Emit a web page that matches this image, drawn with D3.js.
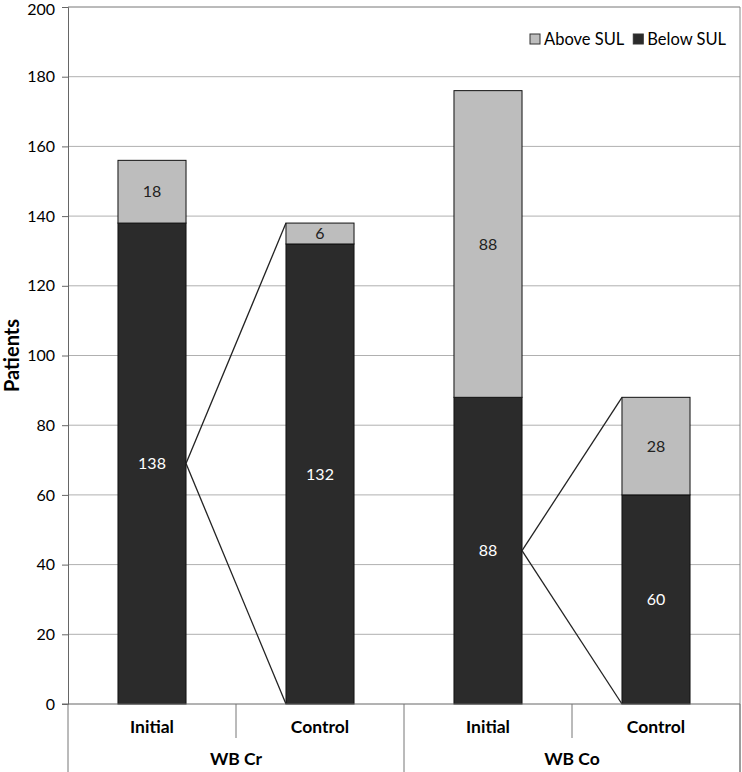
<!DOCTYPE html>
<html>
<head>
<meta charset="utf-8">
<script src="https://cdn.jsdelivr.net/npm/d3@7"></script>
<style>
  body { margin: 0; background: #fff; }
  text { font-family: Lato, "Open Sans", sans-serif; }
</style>
</head>
<body>
<div id="plot"></div>
<script>
// data
const groups = ["WB Cr", "WB Co"];
const phases = ["Initial", "Control"];
const belowSUL = [138, 132, 88, 60];
const aboveSUL = [18, 6, 88, 28];
const yTicks = [0, 20, 40, 60, 80, 100, 120, 140, 160, 180, 200];

const W = 742, H = 772;
const margin = {top: 7, right: 2, bottom: 68, left: 68};
const width = W - margin.left - margin.right;
const height = H - margin.top - margin.bottom;

const svg = d3.select("#plot").append("svg")
  .attr("width", W).attr("height", H);

const g = svg.append("g")
  .attr("transform", `translate(${margin.left},${margin.top})`);

const cats = [];
groups.forEach(gr => phases.forEach(p => cats.push(gr + "|" + p)));

const x = d3.scaleBand().domain(cats).range([0, width]).paddingInner(0.595).paddingOuter(0.2975);
const y = d3.scaleLinear().domain([0, 200]).range([height, 0]);

// grid
g.selectAll(".grid").data(yTicks.slice(1)).enter().append("line")
  .attr("x1", 0).attr("x2", width)
  .attr("y1", d => y(d)).attr("y2", d => y(d))
  .attr("stroke", d => d === 200 ? "#777" : "#b0b0b0").attr("stroke-width", 1);

// right border
g.append("line").attr("x1", width).attr("x2", width)
  .attr("y1", 0).attr("y2", height + margin.bottom)
  .attr("stroke", "#888");

// y axis
const yAxis = g.append("g").call(d3.axisLeft(y).tickValues(yTicks).tickSize(6).tickFormat(d3.format("d")));
yAxis.select(".domain").attr("stroke", "#666");
yAxis.selectAll(".tick line").attr("stroke", "#666");
yAxis.selectAll("text").attr("font-size", 16).attr("fill", "#000").attr("dx", -4);
yAxis.selectAll(".tick").filter(d => d === 200).select("text").attr("dy", "0.45em");

svg.append("text")
  .attr("transform", `translate(19,${margin.top + height / 2}) rotate(-90)`)
  .attr("text-anchor", "middle").attr("font-size", 20).attr("font-weight", "bold")
  .text("Patients");

const data = cats.map((c, i) => ({key: c, below: belowSUL[i], above: aboveSUL[i]}));

// bars
const bw = x.bandwidth();
g.selectAll(".below").data(data).enter().append("rect")
  .attr("x", d => x(d.key)).attr("width", bw)
  .attr("y", d => y(d.below)).attr("height", d => y(0) - y(d.below))
  .attr("fill", "#2b2b2b").attr("stroke", "#111").attr("stroke-width", 1);
g.selectAll(".above").data(data).enter().append("rect")
  .attr("x", d => x(d.key)).attr("width", bw)
  .attr("y", d => y(d.below + d.above)).attr("height", d => y(d.below) - y(d.below + d.above))
  .attr("fill", "#bdbdbd").attr("stroke", "#111").attr("stroke-width", 1);

// labels
g.selectAll(".lb").data(data).enter().append("text")
  .attr("x", d => x(d.key) + bw / 2).attr("y", d => y(d.below / 2))
  .attr("dy", "0.35em").attr("text-anchor", "middle")
  .attr("font-size", 16).attr("fill", "#fff")
  .text(d => d.below);
g.selectAll(".la").data(data).enter().append("text")
  .attr("x", d => x(d.key) + bw / 2).attr("y", d => y(d.below + d.above / 2))
  .attr("dy", "0.35em").attr("text-anchor", "middle")
  .attr("font-size", 16).attr("fill", "#222")
  .text(d => d.above);

// connector lines from initial below midpoint to control bar
for (let k = 0; k < groups.length; k++) {
  const a = data[k * 2], b = data[k * 2 + 1];
  const x0 = x(a.key) + bw, y0 = y(a.below / 2);
  const x1 = x(b.key);
  [b.below + b.above, 0].forEach(v => {
    g.append("line").attr("x1", x0).attr("y1", y0)
      .attr("x2", x1).attr("y2", y(v))
      .attr("stroke", "#222").attr("stroke-width", 1.3);
  });
}

// x axis line
g.append("line").attr("x1", -6).attr("x2", width)
  .attr("y1", height).attr("y2", height).attr("stroke", "#666");

// category separators
const step = width / cats.length;
for (let i = 0; i <= cats.length; i++) {
  const long = i % 2 === 0;
  g.append("line").attr("x1", i * step).attr("x2", i * step)
    .attr("y1", height).attr("y2", long ? height + margin.bottom : height + 34)
    .attr("stroke", "#777");
}

g.selectAll(".phase").data(data).enter().append("text")
  .attr("x", d => x(d.key) + bw / 2).attr("y", height + 29)
  .attr("text-anchor", "middle").attr("font-size", 17.5).attr("font-weight", "bold")
  .text(d => d.key.split("|")[1]);

g.selectAll(".grp").data(groups).enter().append("text")
  .attr("x", (d, i) => (i * 2 + 1) * step).attr("y", height + 61)
  .attr("text-anchor", "middle").attr("font-size", 17.5).attr("font-weight", "bold")
  .text(d => d);

// legend
const legend = [{name: "Above SUL", color: "#bdbdbd"}, {name: "Below SUL", color: "#2b2b2b"}];
const lg = svg.append("g").attr("transform", "translate(530,45)");
let lx = 0;
legend.forEach(l => {
  lg.append("rect").attr("x", lx).attr("y", -11).attr("width", 10).attr("height", 10)
    .attr("fill", l.color).attr("stroke", "#333");
  const t = lg.append("text").attr("x", lx + 14).attr("y", 0)
    .attr("font-size", 16.5).text(l.name);
  lx += 14 + t.node().getComputedTextLength() + 9;
});
</script>
</body>
</html>
